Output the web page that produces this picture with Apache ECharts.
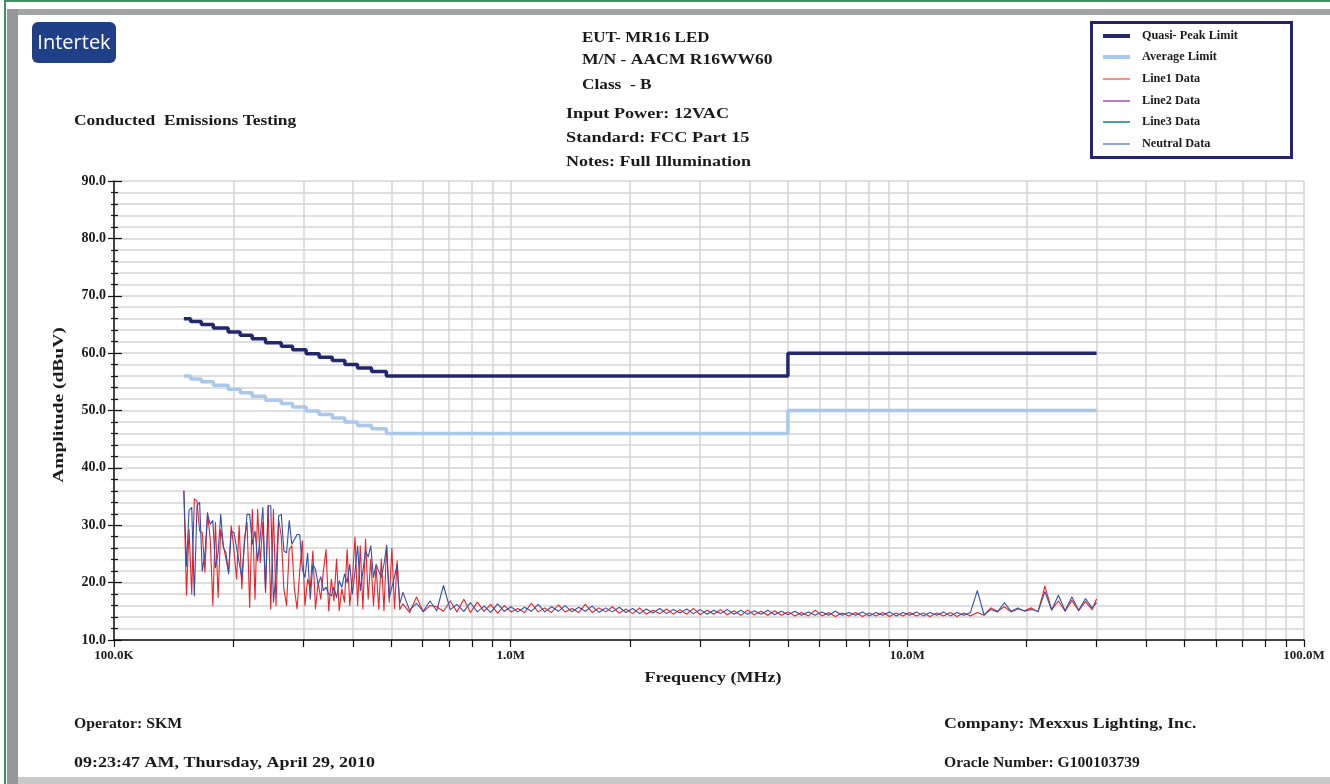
<!DOCTYPE html>
<html><head><meta charset="utf-8">
<script src="https://cdn.jsdelivr.net/npm/echarts@6/dist/echarts.min.js"></script>
<style>html,body{margin:0;padding:0;background:#fff}#c{width:1330px;height:784px}</style>
</head><body><div id="c"></div><script>
// ---- data (frequencies in MHz, amplitudes in dBuV) ----
const xTickLabels = ['100.0K', '1.0M', '10.0M', '100.0M'];

const qpFreq = [0.150, 0.156, 0.166, 0.178, 0.194, 0.208, 0.223, 0.241, 0.264, 0.282, 0.305, 0.329, 0.355, 0.382, 0.411, 0.446, 0.486, 5.0, 30.0];
const qpVal  = [66.0, 65.5, 65.0, 64.4, 63.7, 63.1, 62.5, 61.8, 61.2, 60.6, 59.9, 59.3, 58.7, 58.0, 57.4, 56.8, 56.0, 60.0, 60.0];
const avgVal = [56.0, 55.5, 55.0, 54.4, 53.7, 53.1, 52.5, 51.8, 51.2, 50.6, 49.9, 49.3, 48.7, 48.0, 47.4, 46.8, 46.0, 50.0, 50.0];

const freqA = [
  0.1500, 0.1523, 0.1546, 0.1570, 0.1594, 0.1619, 0.1644, 0.1669, 0.1695, 0.1721,
  0.1748, 0.1775, 0.1802, 0.1830, 0.1858, 0.1887, 0.1916, 0.1945, 0.1975, 0.2006,
  0.2037, 0.2068, 0.2100, 0.2132, 0.2165, 0.2198, 0.2232, 0.2267, 0.2302, 0.2337,
  0.2373, 0.2410, 0.2447, 0.2484, 0.2523, 0.2561, 0.2601, 0.2641, 0.2681, 0.2723,
  0.2765, 0.2807, 0.2850, 0.2894, 0.2939, 0.2984, 0.3030, 0.3077, 0.3124, 0.3172,
  0.3221, 0.3271, 0.3321, 0.3372, 0.3424, 0.3477, 0.3531, 0.3585, 0.3640, 0.3696,
  0.3753, 0.3811, 0.3870, 0.3929, 0.3990, 0.4051, 0.4114, 0.4177, 0.4241, 0.4307,
  0.4373, 0.4440, 0.4509, 0.4578, 0.4649, 0.4720, 0.4793, 0.4867, 0.4942, 0.5018,
  0.5095, 0.5174, 0.5253
];
const freqB = [
  0.535, 0.556, 0.579, 0.602, 0.626, 0.651, 0.677, 0.704, 0.732, 0.762,
  0.792, 0.824, 0.857, 0.891, 0.927, 0.964, 1.002, 1.042, 1.084, 1.127,
  1.173, 1.219, 1.268, 1.319, 1.372, 1.427, 1.484, 1.543, 1.605, 1.669,
  1.736, 1.805, 1.878, 1.953, 2.031, 2.112, 2.197, 2.284, 2.376, 2.471,
  2.570, 2.672, 2.779, 2.890, 3.006, 3.126, 3.251, 3.381, 3.517, 3.657,
  3.804, 3.956, 4.114, 4.279, 4.450, 4.628, 4.813, 5.005, 5.206, 5.414,
  5.630, 5.856, 6.090, 6.333, 6.587, 6.850, 7.124, 7.409, 7.706, 8.014,
  8.335, 8.668, 9.015, 9.375, 9.750, 10.14, 10.55, 10.97, 11.41, 11.86,
  12.34, 12.83, 13.34, 13.88, 14.43, 15.01, 15.61, 16.23, 16.88, 17.56,
  18.26, 18.99, 19.75, 20.54, 21.36, 22.22, 23.11, 24.03, 24.99, 25.99,
  27.03, 28.11, 29.24, 30.00
];

const line1A = [
  36.0, 17.8, 29.3, 18.0, 34.6, 34.2, 29.0, 28.7, 21.8, 32.2,
  27.6, 16.0, 30.5, 17.4, 29.3, 26.4, 24.1, 21.8, 29.9, 25.8,
  20.6, 29.9, 18.9, 27.6, 30.5, 15.7, 32.8, 17.1, 32.8, 23.5,
  30.5, 18.3, 33.4, 15.4, 32.8, 16.0, 31.0, 28.0, 18.9, 16.0,
  25.8, 26.4, 18.9, 15.4, 22.0, 27.3, 16.0, 20.6, 19.0, 25.5,
  15.4, 20.0, 17.1, 22.0, 25.8, 15.1, 20.6, 16.8, 24.1, 15.1,
  18.9, 16.6, 25.8, 16.0, 20.6, 27.9, 16.0, 26.4, 15.4, 27.6,
  17.1, 24.1, 16.0, 22.9, 15.4, 24.1, 15.1, 26.5, 16.6, 26.0,
  15.5, 23.8, 15.3
];
const line1B = [
  16.3, 14.8, 17.5, 14.9, 16.0, 15.8, 15.0, 16.8, 14.9, 17.1,
  14.8, 16.6, 15.0, 16.2, 14.7, 16.0, 14.9, 15.5, 14.8, 16.4,
  14.9, 15.6, 14.8, 16.1, 14.9, 15.5, 14.8, 16.2, 14.8, 15.6,
  14.9, 15.8, 14.7, 15.4, 14.6, 15.6, 14.5, 15.2, 14.6, 15.4,
  14.5, 15.3, 14.5, 15.5, 14.4, 15.2, 14.5, 15.3, 14.4, 15.1,
  14.3, 15.2, 14.4, 15.0, 14.3, 15.1, 14.3, 14.9, 14.2, 14.8,
  14.2, 15.2, 14.2, 14.8, 14.1, 14.7, 14.2, 14.8, 14.1, 14.7,
  14.2, 14.8, 14.1, 14.7, 14.2, 14.8, 14.2, 14.7, 14.1, 14.7,
  14.2, 14.8, 14.1, 14.7, 14.2, 14.8, 14.3, 15.6, 15.0, 15.8,
  14.9, 15.4, 15.1, 15.6, 14.9, 19.4, 15.3, 16.8, 15.0, 16.9,
  15.1, 16.7, 15.3, 17.2
];
const neutralA = [
  36.0, 22.9, 32.6, 33.1, 17.7, 33.4, 34.0, 22.0, 25.0, 31.9,
  30.2, 30.8, 22.6, 25.2, 31.9, 26.1, 25.2, 21.5, 29.0, 28.7,
  26.1, 23.5, 20.9, 26.7, 31.9, 31.9, 26.7, 29.0, 23.8, 28.0,
  33.1, 18.6, 33.4, 33.4, 16.6, 21.5, 31.6, 31.9, 25.5, 25.2,
  30.8, 26.7, 27.5, 28.4, 28.4, 22.3, 20.9, 25.1, 17.1, 23.2,
  22.3, 19.7, 21.0, 18.6, 19.2, 18.0, 17.7, 19.2, 17.4, 20.3,
  19.2, 21.5, 20.0, 23.2, 18.0, 22.0, 26.4, 18.6, 22.0, 25.5,
  24.5, 26.4, 20.9, 23.2, 22.0, 20.9, 23.2, 26.4, 17.4, 19.2,
  21.0, 23.2, 16.3
];
const neutralB = [
  18.3, 15.2, 16.4, 15.0, 16.8, 15.1, 19.5, 15.3, 16.2, 15.0,
  16.5, 14.9, 15.9, 14.8, 16.3, 15.0, 15.8, 14.9, 15.7, 15.0,
  16.2, 14.9, 15.8, 15.0, 16.0, 14.9, 15.7, 15.0, 15.9, 14.8,
  15.6, 14.9, 15.7, 14.8, 15.5, 14.6, 15.4, 14.7, 15.5, 14.6,
  15.3, 14.7, 15.4, 14.6, 15.3, 14.5, 15.2, 14.6, 15.3, 14.5,
  15.2, 14.5, 15.1, 14.5, 15.2, 14.4, 15.0, 14.4, 15.0, 14.3,
  14.9, 14.3, 14.9, 14.3, 15.0, 14.3, 14.8, 14.3, 14.9, 14.2,
  14.8, 14.3, 14.9, 14.2, 14.8, 14.3, 14.9, 14.2, 14.8, 14.3,
  14.9, 14.2, 14.8, 14.3, 14.8, 18.6, 14.4, 15.3, 14.9, 16.5,
  15.0, 15.6, 15.0, 15.3, 15.0, 18.4, 15.2, 17.8, 15.1, 17.5,
  15.2, 17.2, 15.6, 16.5
];

// ---- build ----
const pairs = (xs, ys) => xs.map((x, i) => [x, ys[i]]);
const freqAll = freqA.concat(freqB);
const SERIF = '"Liberation Serif", "DejaVu Serif", serif';
const GRID = '#d5d5d5';

const chart = echarts.init(document.getElementById('c'), null, {renderer: 'canvas'});

function txt(text, x, y, size, sx, rot) {
  return {type: 'text', silent: true, x, y, scaleX: sx || 1, rotation: rot || 0,
    style: {text, x: 0, y: 0, font: 'bold ' + size + 'px ' + SERIF, fill: '#1a1a1a',
      align: rot ? 'center' : 'left', verticalAlign: 'middle',
      textAlign: rot ? 'center' : 'left', textVerticalAlign: 'middle'}};
}
const legendItems = [
  ['Quasi- Peak Limit', '#23286c', 4],
  ['Average Limit', '#a9c9ec', 4],
  ['Line1 Data', '#ec6f6f', 1.5],
  ['Line2 Data', '#a64fb5', 1.5],
  ['Line3 Data', '#0b8585', 1.5],
  ['Neutral Data', '#7088c8', 1.5]
];
const legendRows = [36, 57, 79, 101, 122, 144];
const graphics = [
  {type: 'rect', silent: true, shape: {x: 4, y: 0, width: 1326, height: 2}, style: {fill: '#3f8f5f'}},
  {type: 'rect', silent: true, shape: {x: 4, y: 0, width: 2, height: 784}, style: {fill: '#3f8f5f'}},
  {type: 'rect', silent: true, shape: {x: 7, y: 9, width: 1323, height: 6}, style: {fill: '#a3a4a6'}},
  {type: 'rect', silent: true, shape: {x: 7, y: 9, width: 11, height: 775}, style: {fill: '#96979a'}},
  {type: 'rect', silent: true, shape: {x: 18, y: 777, width: 1312, height: 7}, style: {fill: '#c8c8c8'}},
  {type: 'rect', silent: true, shape: {x: 32, y: 22, width: 84, height: 41, r: 6}, style: {fill: '#1f3f86'}},
  {type: 'text', silent: true, style: {text: 'Intertek', x: 74, y: 43, font: '20px "Open Sans", "Noto Sans", sans-serif',
    fill: '#ffffff', align: 'center', verticalAlign: 'middle', textAlign: 'center', textVerticalAlign: 'middle'}},
  txt('Conducted  Emissions Testing', 74, 121, 15, 1.16),
  txt('EUT- MR16 LED', 582, 38, 15, 1.13),
  txt('M/N - AACM R16WW60', 582, 60, 15, 1.17),
  txt('Class  - B', 582, 85, 15, 1.15),
  txt('Input Power: 12VAC', 566, 114, 15, 1.21),
  txt('Standard: FCC Part 15', 566, 138, 15, 1.22),
  txt('Notes: Full Illumination', 566, 162, 15, 1.2),
  txt('Operator: SKM', 74, 724, 15, 1.05),
  txt('09:23:47 AM, Thursday, April 29, 2010', 74, 763, 15, 1.2),
  txt('Company: Mexxus Lighting, Inc.', 944, 724, 15, 1.19),
  txt('Oracle Number: G100103739', 944, 763, 15, 1.04),
  txt('Frequency (MHz)', 713, 678, 15, 1.2),
  txt('Amplitude (dBuV)', 59, 405, 15, 1.3, Math.PI / 2),
  {type: 'rect', silent: true, shape: {x: 1091.5, y: 22.5, width: 200, height: 135},
    style: {fill: '#ffffff', stroke: '#23236e', lineWidth: 3}}
];
// centre the x-axis title on its anchor
graphics[graphics.length - 3].style.align = 'center';
graphics[graphics.length - 3].style.textAlign = 'center';
legendItems.forEach((it, i) => {
  graphics.push({type: 'line', silent: true, shape: {x1: 1103, y1: legendRows[i], x2: 1130, y2: legendRows[i]},
    style: {stroke: it[1], lineWidth: it[2]}});
  graphics.push(txt(it[0], 1142, legendRows[i], 12, 1.02));
});

const noiseLine = (color) => ({color, width: 1.1, join: 'round'});

chart.setOption({
  animation: false,
  backgroundColor: '#ffffff',
  grid: {left: 114, top: 181, width: 1190, height: 459, containLabel: false},
  xAxis: {
    type: 'log', logBase: 10, min: 0.1, max: 100,
    axisLine: {show: true, lineStyle: {color: '#111', width: 1.5}},
    axisTick: {show: true, inside: false, length: 7, lineStyle: {color: '#111', width: 1.2}},
    minorTick: {show: true, splitNumber: 9, length: 7, lineStyle: {color: '#111', width: 1.2}},
    splitLine: {show: true, lineStyle: {color: GRID, width: 1.5}},
    minorSplitLine: {show: true, lineStyle: {color: GRID, width: 1.5}},
    axisLabel: {margin: 9, fontFamily: SERIF, fontWeight: 'bold', fontSize: 13, color: '#1a1a1a',
      formatter: (v) => xTickLabels[Math.round(Math.log10(v)) + 1] || ''}
  },
  yAxis: [{
    type: 'value', min: 10, max: 90, interval: 10,
    axisLine: {show: true, lineStyle: {color: '#111', width: 1.5}},
    axisTick: {show: true, inside: false, length: 6, lineStyle: {color: '#111', width: 1.2}},
    minorTick: {show: true, splitNumber: 5, length: 3, lineStyle: {color: '#111', width: 1.2}},
    splitLine: {show: true, lineStyle: {color: GRID, width: 1.5}},
    minorSplitLine: {show: true, lineStyle: {color: GRID, width: 1.5}},
    axisLabel: {margin: 8, fontFamily: SERIF, fontWeight: 'bold', fontSize: 14, color: '#1a1a1a',
      formatter: (v) => v.toFixed(1)}
  }, {
    type: 'value', min: 10, max: 90, interval: 10, position: 'left',
    axisLine: {show: false},
    axisTick: {show: true, inside: true, length: 8, lineStyle: {color: '#111', width: 1.2}},
    minorTick: {show: true, splitNumber: 5, length: 4, lineStyle: {color: '#111', width: 1.2}},
    splitLine: {show: false}, minorSplitLine: {show: false},
    axisLabel: {show: false}
  }],
  series: [
    {name: 'Quasi- Peak Limit', type: 'line', step: 'end', symbol: 'none', data: pairs(qpFreq, qpVal),
      lineStyle: {color: '#23286c', width: 3.5}, z: 5},
    {name: 'Average Limit', type: 'line', step: 'end', symbol: 'none', data: pairs(qpFreq, avgVal),
      lineStyle: {color: '#a9c9ec', width: 3.5}, z: 5},
    {name: 'Line1 Data', type: 'line', symbol: 'none', data: pairs(freqAll, line1A.concat(line1B)),
      lineStyle: noiseLine('#ee1f26'), z: 3},
    {name: 'Line2 Data', type: 'line', symbol: 'none', data: [], lineStyle: noiseLine('#a64fb5'), z: 3},
    {name: 'Line3 Data', type: 'line', symbol: 'none', data: [], lineStyle: noiseLine('#0b8585'), z: 3},
    {name: 'Neutral Data', type: 'line', symbol: 'none', data: pairs(freqAll, neutralA.concat(neutralB)),
      lineStyle: noiseLine('#3350a8'), z: 4}
  ],
  graphic: graphics
});
</script></body></html>
